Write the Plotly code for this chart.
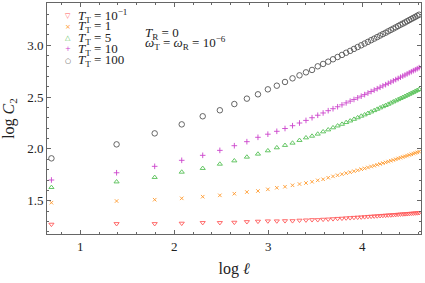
import numpy as np
import plotly.graph_objects as go

# ell = 2, 4, ..., 100 ; x axis is natural log of ell
ell = [2, 4, 6, 8, 10, 12, 14, 16, 18, 20, 22, 24, 26, 28, 30, 32, 34, 36, 38, 40,
       42, 44, 46, 48, 50, 52, 54, 56, 58, 60, 62, 64, 66, 68, 70, 72, 74, 76, 78, 80,
       82, 84, 86, 88, 90, 92, 94, 96, 98, 100]

logC_T01 = [1.272, 1.278, 1.278, 1.282, 1.288, 1.288, 1.291, 1.297, 1.301, 1.304,
            1.304, 1.306, 1.306, 1.311, 1.313, 1.316, 1.316, 1.320, 1.322, 1.325,
            1.328, 1.330, 1.333, 1.335, 1.338, 1.340, 1.342, 1.344, 1.347, 1.349,
            1.351, 1.353, 1.355, 1.357, 1.359, 1.361, 1.362, 1.364, 1.366, 1.368,
            1.370, 1.371, 1.373, 1.374, 1.376, 1.378, 1.379, 1.381, 1.382, 1.384]
logC_T1 = [1.481, 1.497, 1.510, 1.523, 1.539, 1.552, 1.568, 1.584, 1.594, 1.610,
           1.625, 1.635, 1.649, 1.661, 1.671, 1.683, 1.697, 1.707, 1.722, 1.735,
           1.746, 1.756, 1.766, 1.775, 1.785, 1.794, 1.804, 1.812, 1.821, 1.830,
           1.838, 1.847, 1.855, 1.863, 1.870, 1.878, 1.886, 1.893, 1.900, 1.908,
           1.915, 1.922, 1.928, 1.935, 1.942, 1.948, 1.955, 1.961, 1.967, 1.974]
logC_T5 = [1.629, 1.683, 1.726, 1.777, 1.813, 1.854, 1.886, 1.922, 1.951, 1.983,
           2.012, 2.035, 2.057, 2.083, 2.108, 2.124, 2.144, 2.166, 2.185, 2.205,
           2.223, 2.239, 2.256, 2.271, 2.287, 2.302, 2.317, 2.330, 2.344, 2.358,
           2.371, 2.384, 2.397, 2.409, 2.420, 2.432, 2.444, 2.455, 2.466, 2.477,
           2.488, 2.498, 2.508, 2.518, 2.528, 2.538, 2.547, 2.557, 2.566, 2.575]
logC_T10 = [1.700, 1.770, 1.832, 1.890, 1.938, 1.986, 2.031, 2.070, 2.112, 2.142,
            2.170, 2.197, 2.224, 2.250, 2.275, 2.301, 2.325, 2.347, 2.369, 2.388,
            2.407, 2.425, 2.444, 2.461, 2.477, 2.493, 2.509, 2.524, 2.539, 2.554,
            2.568, 2.581, 2.595, 2.608, 2.620, 2.633, 2.645, 2.657, 2.669, 2.680,
            2.692, 2.703, 2.713, 2.724, 2.735, 2.745, 2.755, 2.764, 2.774, 2.784]
logC_T100 = [1.909, 2.044, 2.150, 2.237, 2.315, 2.373, 2.433, 2.485, 2.527, 2.575,
             2.610, 2.646, 2.681, 2.710, 2.739, 2.762, 2.797, 2.820, 2.842, 2.865,
             2.887, 2.907, 2.928, 2.946, 2.965, 2.983, 3.000, 3.017, 3.033, 3.049,
             3.064, 3.079, 3.094, 3.108, 3.121, 3.135, 3.148, 3.161, 3.173, 3.186,
             3.198, 3.209, 3.220, 3.232, 3.243, 3.254, 3.264, 3.274, 3.285, 3.295]

series_names = ["<i>T</i><sub>T</sub> = 10<sup>−1</sup>", "<i>T</i><sub>T</sub> = 1",
                "<i>T</i><sub>T</sub> = 5", "<i>T</i><sub>T</sub> = 10",
                "<i>T</i><sub>T</sub> = 100"]
series_vals = [logC_T01, logC_T1, logC_T5, logC_T10, logC_T100]
colors = ["#ff5a5a", "#ff9a2e", "#55c055", "#cc44cc", "#555555"]
symbols = ["triangle-down-open", "x-thin", "triangle-up-open", "cross-thin", "circle-open"]
legend_glyphs = ["▽", "×", "△", "+", "○"]
sizes = [4.5, 3.5, 4.5, 4, 5.5]

x = np.log(np.array(ell, dtype=float))

FONT = "Liberation Serif, Times New Roman, serif"

fig = go.Figure()
for name, vals, c, s, sz in zip(series_names, series_vals, colors, symbols, sizes):
    fig.add_trace(go.Scatter(
        x=x, y=vals, mode="markers", name=name,
        marker=dict(symbol=s, size=sz, color=c, line=dict(color=c, width=0.9)),
    ))

axis_common = dict(
    showline=True, linecolor="#666666", linewidth=1, mirror="allticks",
    ticks="inside", ticklen=4, tickcolor="#666666", showgrid=False, zeroline=False,
    tickfont=dict(family=FONT, size=13, color="#222222"), automargin=False,
)

fig.update_xaxes(
    range=[0.646, 4.625], tickvals=[1, 2, 3, 4], ticktext=["1", "2", "3", "4"],
    minor=dict(ticks="inside", dtick=0.2, tick0=0, ticklen=2, tickcolor="#666666"),
    title=dict(text="log <i>ℓ</i>", font=dict(family=FONT, size=16, color="#222222"), standoff=10),
    **axis_common,
)
fig.update_yaxes(
    range=[1.179, 3.408], tickvals=[1.5, 2.0, 2.5, 3.0], ticktext=["1.5", "2.0", "2.5", "3.0"],
    minor=dict(ticks="inside", dtick=0.1, tick0=0, ticklen=2, tickcolor="#666666"),
    title=dict(text="log <i>C</i><sub>2</sub>", font=dict(family=FONT, size=16, color="#222222"), standoff=8),
    **axis_common,
)

# compact legend drawn as text rows (glyph + label)
legend_rows_y = [0.945, 0.897, 0.848, 0.800, 0.749]
for name, c, g, yy in zip(series_names, colors, legend_glyphs, legend_rows_y):
    fig.add_annotation(
        xref="paper", yref="paper", x=0.057, y=yy, xanchor="center", yanchor="middle",
        text=g, showarrow=False, font=dict(family="DejaVu Sans", size=7, color=c),
    )
    fig.add_annotation(
        xref="paper", yref="paper", x=0.078, y=yy, xanchor="left", yanchor="middle",
        text=name, showarrow=False, font=dict(family=FONT, size=13, color="#222222"),
    )

fig.add_annotation(
    xref="paper", yref="paper", x=0.257, y=0.87, xanchor="left", yanchor="middle",
    text="<i>T</i><sub>R</sub> = 0", showarrow=False,
    font=dict(family=FONT, size=13, color="#222222"),
)
fig.add_annotation(
    xref="paper", yref="paper", x=0.257, y=0.825, xanchor="left", yanchor="middle",
    text="<i>ω</i><sub>T</sub> = <i>ω</i><sub>R</sub> = 10<sup>−6</sup>", showarrow=False,
    font=dict(family=FONT, size=13, color="#222222"),
)

fig.update_layout(
    width=425, height=283,
    margin=dict(l=47, r=4, t=3, b=49),
    paper_bgcolor="white", plot_bgcolor="white",
    showlegend=False,
)

fig.write_html("out.html", config={"displayModeBar": False},
               post_script="document.body.style.margin='0';")
